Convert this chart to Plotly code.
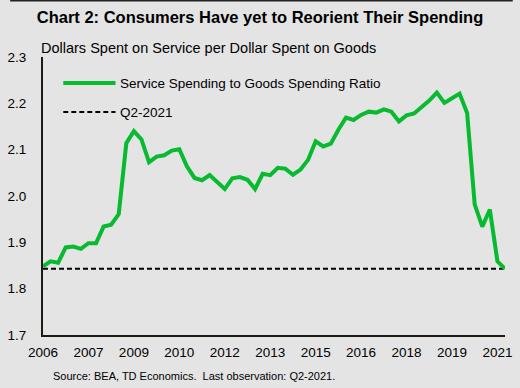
import plotly.graph_objects as go

quarters = [f"{y}Q{q}" for y in range(2006, 2022) for q in range(1, 5)][:62]
ratio = [1.848, 1.859, 1.856, 1.889, 1.891, 1.886, 1.898, 1.898, 1.934, 1.938,
         1.961, 2.114, 2.140, 2.122, 2.073, 2.085, 2.088, 2.098, 2.101, 2.064,
         2.039, 2.034, 2.045, 2.030, 2.015, 2.038, 2.041, 2.035, 2.015, 2.048,
         2.045, 2.061, 2.059, 2.046, 2.057, 2.078, 2.118, 2.107, 2.113, 2.143,
         2.169, 2.164, 2.175, 2.182, 2.180, 2.187, 2.182, 2.161, 2.174, 2.178,
         2.192, 2.206, 2.223, 2.201, 2.211, 2.221, 2.179, 1.982, 1.934, 1.971,
         1.859, 1.843]
tick_quarters = quarters[::6]
tick_labels = ["2006", "2007", "2009", "2010", "2012", "2013", "2015", "2016",
               "2018", "2019", "2021"]
y_ticks = [1.7, 1.8, 1.9, 2.0, 2.1, 2.2, 2.3]
ref_value = ratio[-1]

GREEN = "#08ba30"
BG = "#e4e4e4"
FONT = "Arial, Liberation Sans, sans-serif"
DASH = "5px,3px"

fig = go.Figure()
fig.add_trace(go.Scatter(x=quarters, y=[ref_value] * len(quarters), mode="lines",
                         line=dict(color="black", width=2, dash=DASH),
                         name="Q2-2021", hoverinfo="skip"))
fig.add_trace(go.Scatter(x=quarters, y=ratio, mode="lines",
                         line=dict(color=GREEN, width=4),
                         name="Service Spending to Goods Spending Ratio"))

fig.update_layout(
    width=520, height=388,
    margin=dict(l=34, r=8, t=57, b=53),
    paper_bgcolor=BG, plot_bgcolor=BG,
    showlegend=False,
    font=dict(family=FONT, size=13.5, color="black"),
    title=dict(text="<b>Chart 2: Consumers Have yet to Reorient Their Spending</b>",
               x=0.5, xanchor="center", y=1 - 17 / 388, yanchor="middle",
               font=dict(size=16.5, family=FONT, color="black")),
    xaxis=dict(type="category", range=[0, 61], tickvals=tick_quarters,
               ticktext=tick_labels, showgrid=False, zeroline=False,
               showline=True, linecolor="#1c1c14", linewidth=2,
               ticks="", ticklabelstandoff=4, tickfont=dict(size=13.5)),
    yaxis=dict(range=[1.7, 2.3], tickvals=y_ticks,
               ticktext=[f"{v:.1f}" for v in y_ticks], showgrid=False,
               zeroline=False, showline=True, linecolor="#1c1c14", linewidth=2,
               ticks="", ticklabelstandoff=12, tickfont=dict(size=13.5)),
)

# axis title
fig.add_annotation(text="Dollars Spent on Service per Dollar Spent on Goods",
                   xref="paper", yref="paper", x=-4 / 478, y=1 + 9 / 278,
                   xanchor="left", yanchor="middle", showarrow=False,
                   font=dict(size=14.5, family=FONT, color="black"))

# legend (manual)
def px_x(p):
    return (p - 34) / 478

def px_y(p):
    return (335 - p) / 278

fig.add_shape(type="line", xref="paper", yref="paper", x0=px_x(55), x1=px_x(109),
              y0=px_y(83), y1=px_y(83), line=dict(color=GREEN, width=4))
fig.add_annotation(text="Service Spending to Goods Spending Ratio", xref="paper",
                   yref="paper", x=px_x(112), y=px_y(83), xanchor="left",
                   yanchor="middle", showarrow=False,
                   font=dict(size=13.5, family=FONT, color="black"))
fig.add_shape(type="line", xref="paper", yref="paper", x0=px_x(55), x1=px_x(109),
              y0=px_y(112), y1=px_y(112),
              line=dict(color="black", width=2, dash=DASH))
fig.add_annotation(text="Q2-2021", xref="paper", yref="paper", x=px_x(112),
                   y=px_y(112), xanchor="left", yanchor="middle", showarrow=False,
                   font=dict(size=13.5, family=FONT, color="black"))

# source
fig.add_annotation(text="Source: BEA, TD Economics.  Last observation: Q2-2021.",
                   xref="paper", yref="paper", x=px_x(42), y=px_y(376),
                   xanchor="left", yanchor="middle", showarrow=False,
                   font=dict(size=11, family=FONT, color="black"))

# top border
fig.add_shape(type="line", xref="paper", yref="paper", x0=-34 / 478, x1=1 + 8 / 478,
              y0=px_y(0.5), y1=px_y(0.5), line=dict(color="#222222", width=2))

fig.write_html("out.html", config={"displayModeBar": False},
               post_script="document.body.style.margin='0';document.body.style.padding='0';")
